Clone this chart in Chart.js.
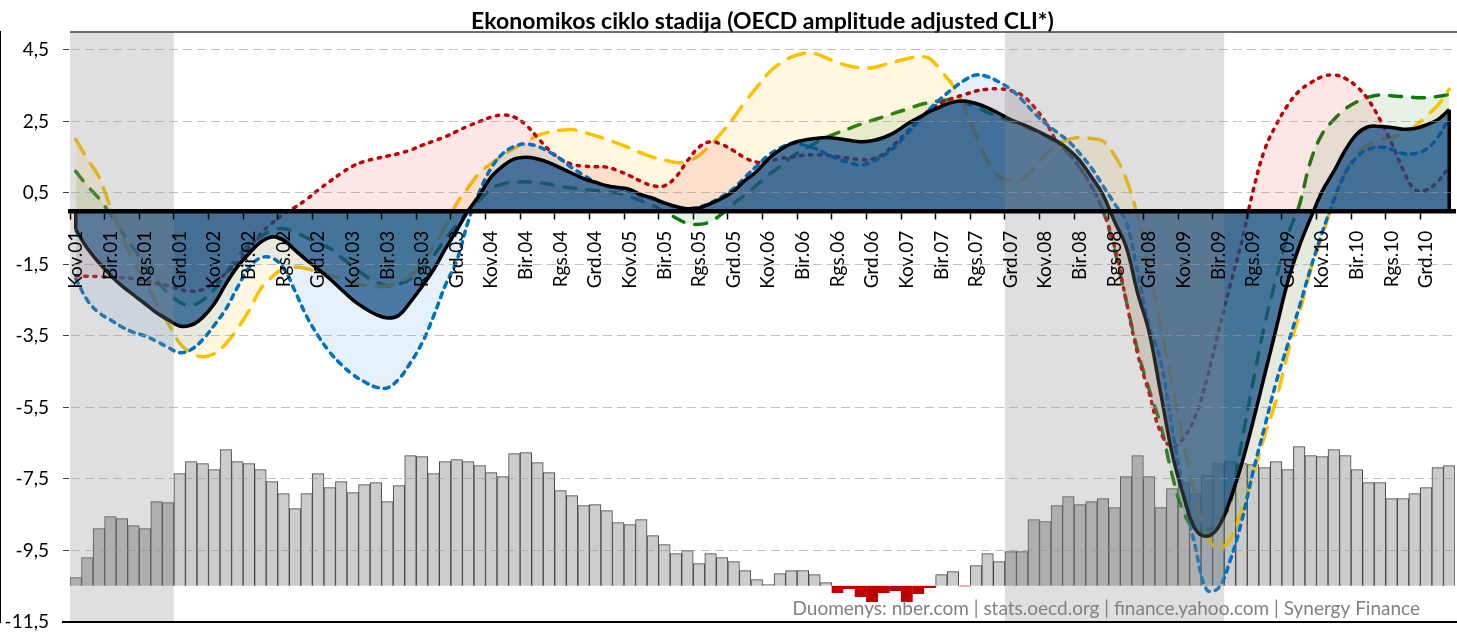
<!DOCTYPE html>
<html><head><meta charset="utf-8">
<script src="https://cdn.jsdelivr.net/npm/chart.js@4.4.0/dist/chart.umd.min.js"></script>
<style>html,body{margin:0;padding:0;background:#fff;overflow:hidden}</style>
</head><body>
<canvas id="c" width="1457" height="632"></canvas>
<script>
const titleText = 'Ekonomikos ciklo stadija (OECD amplitude adjusted CLI*)';
const sourceText = 'Duomenys: nber.com | stats.oecd.org | finance.yahoo.com | Synergy Finance';

const months = [
 'Kov.01','Bal.01','Geg.01','Bir.01','Lie.01','Rgp.01','Rgs.01','Spa.01','Lap.01','Grd.01',
 'Sau.02','Vas.02','Kov.02','Bal.02','Geg.02','Bir.02','Lie.02','Rgp.02','Rgs.02','Spa.02','Lap.02','Grd.02',
 'Sau.03','Vas.03','Kov.03','Bal.03','Geg.03','Bir.03','Lie.03','Rgp.03','Rgs.03','Spa.03','Lap.03','Grd.03',
 'Sau.04','Vas.04','Kov.04','Bal.04','Geg.04','Bir.04','Lie.04','Rgp.04','Rgs.04','Spa.04','Lap.04','Grd.04',
 'Sau.05','Vas.05','Kov.05','Bal.05','Geg.05','Bir.05','Lie.05','Rgp.05','Rgs.05','Spa.05','Lap.05','Grd.05',
 'Sau.06','Vas.06','Kov.06','Bal.06','Geg.06','Bir.06','Lie.06','Rgp.06','Rgs.06','Spa.06','Lap.06','Grd.06',
 'Sau.07','Vas.07','Kov.07','Bal.07','Geg.07','Bir.07','Lie.07','Rgp.07','Rgs.07','Spa.07','Lap.07','Grd.07',
 'Sau.08','Vas.08','Kov.08','Bal.08','Geg.08','Bir.08','Lie.08','Rgp.08','Rgs.08','Spa.08','Lap.08','Grd.08',
 'Sau.09','Vas.09','Kov.09','Bal.09','Geg.09','Bir.09','Lie.09','Rgp.09','Rgs.09','Spa.09','Lap.09','Grd.09',
 'Sau.10','Vas.10','Kov.10','Bal.10','Geg.10','Bir.10','Lie.10','Rgp.10','Rgs.10','Spa.10','Lap.10','Grd.10',
 'Sau.11','Vas.11'
];

const tickLabels = [
 'Kov.01','Bir.01','Rgs.01','Grd.01','Kov.02','Bir.02','Rgs.02','Grd.02',
 'Kov.03','Bir.03','Rgs.03','Grd.03','Kov.04','Bir.04','Rgs.04','Grd.04',
 'Kov.05','Bir.05','Rgs.05','Grd.05','Kov.06','Bir.06','Rgs.06','Grd.06',
 'Kov.07','Bir.07','Rgs.07','Grd.07','Kov.08','Bir.08','Rgs.08','Grd.08',
 'Kov.09','Bir.09','Rgs.09','Grd.09','Kov.10','Bir.10','Rgs.10','Grd.10'
];

const yTicks = [-11.5, -9.5, -7.5, -5.5, -3.5, -1.5, 0.5, 2.5, 4.5];

const recessions = [['Kov.01','Lap.01'], ['Grd.07','Bir.09']];

const cliMain = [
 -0.53,-1.05,-1.45,-1.8,-2.1,-2.35,-2.6,-2.85,-3.05,-3.22,
 -3.2,-2.98,-2.6,-2.05,-1.57,-1.2,-0.88,-0.73,-0.82,-1.1,
 -1.38,-1.63,-1.9,-2.2,-2.49,-2.72,-2.9,-3.0,-2.92,-2.55,
 -2.12,-1.65,-1.08,-0.55,0.0,0.45,0.95,1.25,1.45,1.5,
 1.45,1.35,1.2,1.05,0.9,0.8,0.7,0.65,0.6,0.45,
 0.35,0.22,0.12,0.06,0.08,0.2,0.35,0.55,0.85,1.1,
 1.45,1.7,1.88,1.97,2.02,2.05,2.02,1.97,1.93,1.96,
 2.05,2.2,2.42,2.6,2.78,2.92,3.04,3.07,3.0,2.88,
 2.72,2.55,2.42,2.28,2.12,1.95,1.72,1.4,0.95,0.45,
 -0.3,-1.0,-2.3,-3.4,-5.1,-6.8,-8.0,-8.9,-9.1,-8.85,
 -8.1,-7.1,-5.9,-4.6,-3.3,-2.0,-1.0,-0.2,0.55,1.1,
 1.7,2.15,2.35,2.36,2.33,2.28,2.3,2.4,2.55,2.83
];

const cliBlue = [
 -1.9,-2.5,-2.85,-3.05,-3.25,-3.4,-3.5,-3.65,-3.82,-3.97,
 -3.88,-3.6,-3.2,-2.75,-2.15,-1.6,-1.32,-1.32,-1.6,-2.25,
 -2.95,-3.5,-3.95,-4.3,-4.58,-4.78,-4.93,-4.95,-4.7,-4.25,
 -3.7,-2.95,-2.1,-1.4,-0.3,0.55,1.2,1.6,1.8,1.87,
 1.8,1.65,1.45,1.2,1.0,0.8,0.7,0.62,0.55,0.42,
 0.32,0.2,0.1,0.06,0.1,0.22,0.4,0.62,0.95,1.25,
 1.55,1.75,1.88,1.85,1.75,1.6,1.45,1.35,1.28,1.38,
 1.55,1.8,2.15,2.5,2.85,3.15,3.42,3.65,3.8,3.75,
 3.6,3.4,3.1,2.75,2.45,2.2,1.95,1.6,1.2,0.7,
 0.2,-0.3,-1.7,-3.2,-4.2,-6.1,-7.9,-9.4,-10.6,-10.55,
 -9.8,-8.7,-7.3,-6.05,-4.8,-3.75,-2.7,-1.6,-0.6,0.3,
 1.05,1.5,1.72,1.78,1.72,1.6,1.6,1.72,2.05,2.6
];

const cliYellow = [
 2.0,1.45,0.95,0.1,-0.7,-1.4,-2.0,-2.6,-3.15,-3.7,
 -3.98,-4.08,-4.0,-3.72,-3.3,-2.8,-2.2,-1.85,-1.62,-1.57,
 -1.62,-1.72,-1.8,-1.9,-2.0,-2.08,-2.12,-2.1,-2.0,-1.82,
 -1.45,-1.0,-0.45,0.2,0.65,1.06,1.32,1.55,1.75,1.93,
 2.1,2.2,2.25,2.27,2.2,2.1,2.0,1.88,1.75,1.62,
 1.5,1.42,1.35,1.38,1.55,1.85,2.2,2.6,3.05,3.45,
 3.85,4.12,4.3,4.4,4.4,4.28,4.15,4.05,4.0,4.0,
 4.08,4.17,4.25,4.31,4.25,3.9,3.5,2.9,2.1,1.4,
 0.95,0.85,0.88,1.2,1.55,1.85,1.99,2.05,2.02,1.95,
 1.55,0.9,-0.15,-1.6,-3.25,-4.9,-6.5,-8.0,-9.1,-9.45,
 -9.2,-8.4,-7.4,-6.3,-5.3,-4.0,-2.9,-1.65,-0.7,0.3,
 1.1,1.6,1.85,2.0,2.05,2.15,2.35,2.65,2.95,3.4
];

const cliGreen = [
 1.1,0.7,0.35,-0.1,-0.6,-1.05,-1.5,-1.95,-2.3,-2.55,
 -2.65,-2.5,-2.2,-1.75,-1.3,-0.95,-0.73,-0.55,-0.5,-0.6,
 -0.75,-0.9,-1.05,-1.3,-1.55,-1.8,-1.98,-2.1,-2.05,-1.9,
 -1.6,-1.25,-0.8,-0.4,0.0,0.3,0.62,0.75,0.8,0.81,
 0.79,0.74,0.68,0.64,0.6,0.57,0.53,0.49,0.4,0.28,
 0.15,-0.02,-0.2,-0.35,-0.38,-0.3,-0.08,0.2,0.45,0.72,
 1.0,1.23,1.5,1.7,1.88,2.05,2.18,2.3,2.42,2.53,
 2.63,2.74,2.84,2.95,3.03,3.08,3.1,3.02,2.9,2.75,
 2.62,2.5,2.38,2.25,2.1,1.9,1.6,1.2,0.7,0.0,
 -1.1,-2.5,-3.9,-5.0,-6.0,-7.4,-8.45,-8.9,-8.95,-8.7,
 -8.2,-6.5,-4.8,-3.2,-1.9,-0.7,0.15,1.4,2.15,2.55,
 2.85,3.05,3.18,3.24,3.22,3.19,3.17,3.16,3.2,3.25
];

const cliRed = [
 -1.82,-1.83,-1.84,-1.85,-1.87,-1.9,-1.95,-2.03,-2.1,-2.2,
 -2.25,-2.2,-2.0,-1.75,-1.45,-1.05,-0.65,-0.35,-0.1,0.1,
 0.32,0.58,0.82,1.05,1.25,1.38,1.46,1.53,1.6,1.7,
 1.83,1.95,2.07,2.22,2.37,2.5,2.62,2.68,2.62,2.4,
 2.05,1.7,1.45,1.3,1.25,1.23,1.22,1.12,0.98,0.82,
 0.7,0.7,0.95,1.4,1.78,1.93,1.85,1.68,1.48,1.36,
 1.38,1.46,1.5,1.55,1.57,1.55,1.51,1.47,1.43,1.45,
 1.6,1.88,2.2,2.55,2.82,3.02,3.15,3.25,3.35,3.4,
 3.41,3.36,3.23,2.92,2.5,1.95,1.62,1.2,0.67,0.0,
 -1.0,-2.5,-4.0,-5.1,-6.2,-6.6,-6.35,-5.75,-4.7,-3.4,
 -2.1,-0.9,0.55,1.7,2.4,2.95,3.35,3.58,3.75,3.8,
 3.7,3.47,3.1,2.55,1.9,1.15,0.6,0.58,0.82,1.23
];

const barValues = [
 0.8,2.8,5.7,6.9,6.7,6.0,5.7,8.4,8.3,11.2,
 12.4,12.2,11.6,13.6,12.4,12.2,11.6,10.4,9.2,7.7,
 9.2,11.2,9.8,10.4,9.3,10.1,10.3,8.4,10.0,13.0,
 12.9,11.2,12.4,12.6,12.4,12.0,11.3,10.9,13.2,13.3,
 12.3,11.3,9.5,9.0,8.0,8.1,7.5,6.3,6.1,6.6,
 5.0,4.1,3.2,3.5,2.2,3.2,2.8,2.4,1.5,0.6,
 0.1,1.2,1.5,1.5,1.1,0.3,-0.7,-0.3,-1.1,-1.6,
 -0.7,-0.5,-1.6,-0.8,-0.2,1.1,1.4,-0.05,2.0,3.2,
 2.4,3.4,3.4,6.6,6.4,8.0,8.9,8.1,8.4,8.7,
 7.8,10.9,13.0,10.9,7.8,9.7,10.3,9.2,11.0,12.2,
 12.4,12.2,12.1,11.8,12.4,11.6,13.9,13.0,12.9,13.6,
 13.0,11.6,10.3,10.3,8.7,8.7,9.2,9.8,11.8,12.0
];

Chart.defaults.font.family = 'Lato, "Open Sans", sans-serif';

const monthIdx = m => months.indexOf(m);
const inRecession = i => recessions.some(([a, b]) => i >= monthIdx(a) && i <= monthIdx(b));

const edgePlugin = {
  id: 'edges',
  afterDatasetsDraw(chart) {
    const meta = chart.getDatasetMeta(0);
    const pts = meta.data;
    if (!pts.length) return;
    const y0 = chart.scales.y.getPixelForValue(0);
    const ctx = chart.ctx;
    ctx.save();
    ctx.strokeStyle = '#000';
    ctx.lineWidth = 3.5;
    [pts[0], pts[pts.length - 1]].forEach(p => {
      ctx.beginPath(); ctx.moveTo(p.x, p.y); ctx.lineTo(p.x, y0); ctx.stroke();
    });
    ctx.restore();
  }
};

const recessionPlugin = {
  id: 'recession',
  afterDatasetsDraw(chart) {
    const {ctx, chartArea, scales: {x}} = chart;
    const half = (x.getPixelForValue(1) - x.getPixelForValue(0)) / 2;
    ctx.save();
    ctx.fillStyle = 'rgba(140,140,140,0.28)';
    recessions.forEach(([a, b]) => {
      const x0 = Math.max(chartArea.left, x.getPixelForValue(monthIdx(a)) - half);
      const x1 = Math.min(chartArea.right, x.getPixelForValue(monthIdx(b)) + half);
      ctx.fillRect(x0, chartArea.top, x1 - x0, chartArea.bottom - chartArea.top);
    });
    ctx.restore();
  }
};

const framePlugin = {
  id: 'frame',
  afterDraw(chart) {
    const {ctx, chartArea} = chart;
    ctx.save();
    ctx.strokeStyle = '#404040';
    ctx.lineWidth = 1.5;
    ctx.beginPath(); ctx.moveTo(chartArea.left, chartArea.top); ctx.lineTo(chart.width, chartArea.top); ctx.stroke();
    ctx.strokeStyle = '#000';
    ctx.lineWidth = 2;
    ctx.beginPath(); ctx.moveTo(chartArea.left - 8, chartArea.bottom); ctx.lineTo(chart.width, chartArea.bottom); ctx.stroke();
    ctx.font = '19px Lato, "Open Sans", sans-serif';
    ctx.fillStyle = '#808080';
    ctx.textAlign = 'right';
    ctx.textBaseline = 'alphabetic';
    ctx.fillText(sourceText, chartArea.right - 35, chartArea.bottom - 7);
    ctx.restore();
  }
};

const lineBase = {type: 'line', fill: 'origin', tension: 0.4, pointRadius: 0, pointHoverRadius: 0, yAxisID: 'y'};

new Chart(document.getElementById('c'), {
  data: {
    labels: months,
    datasets: [
      Object.assign({}, lineBase, {label: 'CLI', data: cliMain, borderColor: '#000', borderWidth: 3.5,
        borderJoinStyle: 'round', backgroundColor: 'rgba(15,75,135,0.72)', order: 1}),
      Object.assign({}, lineBase, {label: 'Mėlyna', data: cliBlue, borderColor: '#0070c0', borderWidth: 3.5,
        borderDash: [5, 6], borderCapStyle: 'round', backgroundColor: 'rgba(0,112,192,0.10)', order: 2}),
      Object.assign({}, lineBase, {label: 'Raudona', data: cliRed, borderColor: '#c00000', borderWidth: 3.5,
        borderDash: [2.5, 6.5], borderCapStyle: 'round', backgroundColor: 'rgba(230,60,60,0.13)', order: 3}),
      Object.assign({}, lineBase, {label: 'Geltona', data: cliYellow, borderColor: '#ffc000', borderWidth: 3.5,
        borderDash: [17, 11], borderCapStyle: 'round', backgroundColor: 'rgba(255,192,0,0.12)', order: 4}),
      Object.assign({}, lineBase, {label: 'Žalia', data: cliGreen, borderColor: '#0e7a0e', borderWidth: 3.5,
        borderDash: [12, 11], borderCapStyle: 'round', backgroundColor: 'rgba(0,128,0,0.10)', order: 5}),
      {type: 'bar', label: 'Stulpeliai', data: barValues, yAxisID: 'y2', order: 10,
        categoryPercentage: 1, barPercentage: 1, borderWidth: 1,
        backgroundColor: c => barValues[c.dataIndex] < 0 ? '#c00000' : (inRecession(c.dataIndex) ? '#bbbbbb' : '#cccccc'),
        borderColor: c => barValues[c.dataIndex] < 0 ? '#c00000' : '#454545'}
    ]
  },
  options: {
    responsive: false,
    animation: false,
    layout: {padding: {top: 0, right: 2, bottom: 10, left: 0}},
    plugins: {
      legend: {display: false},
      tooltip: {enabled: false},
      title: {display: true, text: titleText, fullSize: false, color: '#000',
        font: {size: 23, weight: 'bold', lineHeight: 0.9}, padding: {top: 11.2, bottom: 0.1}}
    },
    scales: {
      x: {
        type: 'category', offset: true, position: {y: 0},
        afterFit: s => { s.paddingLeft = 0; s.paddingRight = 0; },
        grid: {offset: true, drawOnChartArea: false, drawTicks: true, tickLength: 6, tickWidth: 1.5,
          tickColor: c => (c.index % 3 === 0 ? '#000' : 'rgba(0,0,0,0)'), z: 1},
        border: {display: true, color: '#000', width: 4.5, z: 1},
        ticks: {autoSkip: false, maxRotation: 90, minRotation: 90, padding: 14, color: '#000', z: 1,
          font: {size: 19},
          callback: (v, i) => (tickLabels.includes(months[i]) ? months[i] : '')}
      },
      y: {
        position: 'left', min: -11.5, max: 5,
        afterBuildTicks: s => { s.ticks = yTicks.map(v => ({value: v})); },
        afterFit: s => { s.width = 70; s.paddingTop = 0; s.paddingBottom = 0; },
        grid: {color: 'rgba(150,150,150,0.6)', lineWidth: 1, tickLength: 7, tickColor: '#404040',
          tickBorderDash: [], drawTicks: true, z: 1},
        border: {display: true, color: '#000', width: 2, dash: [9, 5]},
        ticks: {padding: 14, color: '#000', font: {size: 19},
          callback: v => v.toFixed(1).replace('.', ',')}
      },
      y2: {display: false, min: -3.63, max: 55.37}
    }
  },
  plugins: [edgePlugin, recessionPlugin, framePlugin]
});
</script>
</body></html>
